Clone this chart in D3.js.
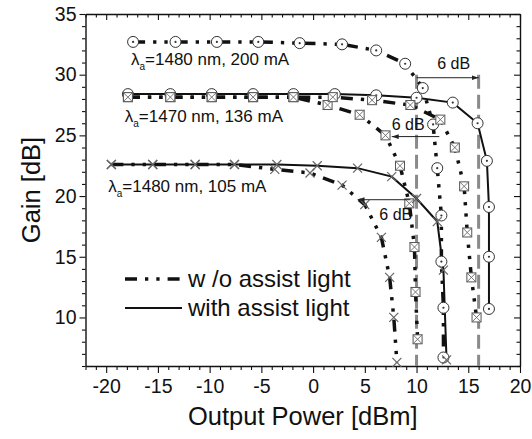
<!DOCTYPE html>
<html>
<head>
<meta charset="utf-8">
<script src="https://cdn.jsdelivr.net/npm/d3@7"></script>
<style>
  body { margin: 0; background: #fff; }
  svg { display: block; }
  text { font-family: "Liberation Sans", Arial, Helvetica, sans-serif; fill: #111; }
</style>
</head>
<body>
<svg id="chart" width="532" height="439"></svg>
<script>
// Gain versus output power, with and without assist light, for three pump conditions.

const xMajorTicks = [-20, -15, -10, -5, 0, 5, 10, 15, 20];
const yMajorTicks = [10, 15, 20, 25, 30, 35];

// λa = 1480 nm, 200 mA
const a1480hiNoAssistP = [-17.4, -13.3, -9.3, -5.3, -1.3, 2.8, 6.1, 8.9, 10.6, 11.6, 12.0, 12.4, 12.4, 12.6, 12.6];
const a1480hiNoAssistG = [32.7, 32.7, 32.7, 32.7, 32.6, 32.5, 32.0, 30.9, 28.9, 25.9, 22.3, 18.4, 14.6, 10.8, 6.7];
const a1480hiAssistP = [-17.9, -13.8, -9.8, -5.8, -1.9, 2.1, 6.1, 10.0, 13.5, 15.9, 16.8, 17.0, 17.0, 17.0];
const a1480hiAssistG = [28.4, 28.4, 28.4, 28.4, 28.4, 28.4, 28.3, 28.1, 27.7, 26.0, 22.9, 19.1, 15.0, 10.7];

// λa = 1470 nm, 136 mA
const a1470NoAssistP = [-17.9, -13.8, -9.8, -5.8, -1.9, 1.4, 4.5, 7.0, 8.4, 9.3, 9.8, 9.9, 10.1];
const a1470NoAssistG = [28.15, 28.15, 28.15, 28.15, 28.15, 27.5, 26.7, 25.0, 22.5, 19.4, 15.8, 12.1, 8.2];
const a1470AssistP = [-17.9, -13.8, -9.8, -5.8, -1.9, 1.9, 5.7, 9.4, 12.3, 13.7, 14.6, 14.9, 15.3, 15.8];
const a1470AssistG = [28.15, 28.15, 28.15, 28.15, 28.15, 28.15, 27.9, 27.5, 26.3, 24.0, 20.8, 17.0, 13.3, 10.0];

// λa = 1480 nm, 105 mA
const a1480loNoAssistP = [-19.5, -15.5, -11.4, -7.6, -3.7, -0.3, 2.8, 5.0, 6.6, 7.4, 7.8, 8.1];
const a1480loNoAssistG = [22.6, 22.6, 22.6, 22.6, 22.2, 21.9, 20.9, 19.3, 16.6, 13.3, 10.0, 6.3];
const a1480loAssistP = [-19.5, -15.5, -11.4, -7.6, -3.5, 0.4, 4.3, 7.6, 10.0, 12.0, 12.6, 12.9];
const a1480loAssistG = [22.6, 22.6, 22.6, 22.6, 22.6, 22.5, 22.3, 21.6, 19.8, 17.9, 13.9, 6.5];

// Condition labels: [power, gain, text after λa]
const conditionLabels = [
  [-17.6, 30.8, "=1480 nm, 200 mA"],
  [-18.2, 26.1, "=1470 nm, 136 mA"],
  [-19.8, 20.35, "=1480 nm, 105 mA"]
];

// Saturation-shift arrows: [gain, from power, to power]
const shiftArrows = [
  [29.75, 10.0, 16.0],
  [24.9, 12.2, 7.6],
  [19.7, 9.4, 4.3]
];
const shiftLabels = [
  [12.0, 30.45, "6 dB"],
  [7.6, 25.45, "6 dB"],
  [6.4, 18.05, "6 dB"]
];
// Reference verticals at the 3-dB saturation powers
const refPowers = [10, 16];
const refTopGain = 30.0;

const legendItems = ["w /o assist light", "with assist light"];

const zip = (P, G) => P.map((p, i) => ({ p, g: G[i] }));

const series = [
  { pts: zip(a1480hiNoAssistP, a1480hiNoAssistG), assist: false, marker: "circle" },
  { pts: zip(a1480hiAssistP, a1480hiAssistG), assist: true, marker: "circle" },
  { pts: zip(a1470NoAssistP, a1470NoAssistG), assist: false, marker: "boxx" },
  { pts: zip(a1470AssistP, a1470AssistG), assist: false, marker: "boxx" },
  { pts: zip(a1480loNoAssistP, a1480loNoAssistG), assist: false, marker: "cross" },
  { pts: zip(a1480loAssistP, a1480loAssistG), assist: true, marker: "cross" }
];

const svg = d3.select("#chart");
const plotLeft = 85.5, plotRight = 520, plotTop = 14, plotBottom = 366;
const x = d3.scaleLinear().domain([-22, 20]).range([plotLeft, plotRight]);
const y = d3.scaleLinear().domain([6, 35]).range([plotBottom, plotTop]);

const xMinor = d3.range(-22, 21, 1).filter(v => !xMajorTicks.includes(v));
const yMinor = d3.range(6, 36, 1).filter(v => !yMajorTicks.includes(v));

function styleAxis(g) {
  g.selectAll("path.domain").attr("stroke", "#111").attr("stroke-width", 1.4);
  g.selectAll(".tick line").attr("stroke", "#111").attr("stroke-width", 1.1);
  g.selectAll(".tick text").attr("fill", "#111").style("font-size", "19.5px")
    .style("font-family", '"Liberation Sans", Arial, sans-serif');
}

// bottom axis
svg.append("g").attr("transform", `translate(0,${plotBottom})`)
  .call(d3.axisBottom(x).tickValues(xMajorTicks).tickSize(7).tickSizeOuter(0).tickPadding(6).tickFormat(d => String(d)))
  .call(styleAxis);
svg.append("g").attr("transform", `translate(0,${plotBottom})`)
  .call(d3.axisBottom(x).tickValues(xMinor).tickSize(4).tickSizeOuter(0).tickFormat(""))
  .call(styleAxis).call(g => g.select("path.domain").remove());
// top axis (ticks inward)
svg.append("g").attr("transform", `translate(0,${plotTop})`)
  .call(d3.axisTop(x).tickValues(xMajorTicks).tickSize(-6).tickSizeOuter(0).tickFormat(""))
  .call(styleAxis);
svg.append("g").attr("transform", `translate(0,${plotTop})`)
  .call(d3.axisTop(x).tickValues(xMinor).tickSize(-3.5).tickSizeOuter(0).tickFormat(""))
  .call(styleAxis).call(g => g.select("path.domain").remove());
// left axis
svg.append("g").attr("transform", `translate(${plotLeft},0)`)
  .call(d3.axisLeft(y).tickValues(yMajorTicks).tickSize(6).tickSizeOuter(0).tickPadding(3).tickFormat(d => String(d)))
  .call(styleAxis);
svg.append("g").attr("transform", `translate(${plotLeft},0)`)
  .call(d3.axisLeft(y).tickValues(yMinor).tickSize(3.5).tickSizeOuter(0).tickFormat(""))
  .call(styleAxis).call(g => g.select("path.domain").remove());
// right axis (ticks inward)
svg.append("g").attr("transform", `translate(${plotRight},0)`)
  .call(d3.axisRight(y).tickValues(yMajorTicks).tickSize(-6).tickSizeOuter(0).tickFormat(""))
  .call(styleAxis);
svg.append("g").attr("transform", `translate(${plotRight},0)`)
  .call(d3.axisRight(y).tickValues(yMinor).tickSize(-3.5).tickSizeOuter(0).tickFormat(""))
  .call(styleAxis).call(g => g.select("path.domain").remove());

// axis titles
svg.append("text").attr("x", (plotLeft + plotRight) / 2).attr("y", 425)
  .attr("text-anchor", "middle").style("font-size", "25.5px").text("Output Power [dBm]");
svg.append("text").attr("transform", `translate(40,${(plotTop + plotBottom) / 2}) rotate(-90)`)
  .attr("text-anchor", "middle").style("font-size", "25.5px").text("Gain [dB]");

// reference verticals
svg.append("g").selectAll("line").data(refPowers).join("line")
  .attr("x1", d => x(d)).attr("x2", d => x(d))
  .attr("y1", y(refTopGain)).attr("y2", plotBottom)
  .attr("stroke", "#8a8a8a").attr("stroke-width", 3).attr("stroke-dasharray", "14,6");

// curves
const line = d3.line().x(d => x(d.p)).y(d => y(d.g));
const noAssistDash = "12,8,3.3,8,3.3,8";
svg.append("g").selectAll("path").data(series).join("path")
  .attr("d", d => line(d.pts))
  .attr("fill", "none").attr("stroke", "#111")
  .attr("stroke-width", d => d.assist ? 2 : 3.5)
  .attr("stroke-dasharray", d => d.assist ? null : noAssistDash);

// markers
const markerLayer = svg.append("g");
series.forEach(s => {
  const g = markerLayer.append("g");
  const pts = g.selectAll("g").data(s.pts).join("g")
    .attr("transform", d => `translate(${x(d.p)},${y(d.g)})`);
  if (s.marker === "circle") {
    pts.append("circle").attr("r", 5.5).attr("fill", "#fff").attr("stroke", "#333").attr("stroke-width", 1);
    pts.append("circle").attr("r", 1.1).attr("fill", "#333");
  } else if (s.marker === "boxx") {
    pts.append("rect").attr("x", -4.5).attr("y", -4.5).attr("width", 9).attr("height", 9)
      .attr("fill", "#fff").attr("stroke", "#555").attr("stroke-width", 1);
    pts.append("path").attr("d", "M-4.5,-4.5L4.5,4.5M4.5,-4.5L-4.5,4.5")
      .attr("stroke", "#666").attr("stroke-width", 0.9);
  } else {
    pts.append("path").attr("d", "M-4.5,-4.5L4.5,4.5M4.5,-4.5L-4.5,4.5")
      .attr("stroke", "#666").attr("stroke-width", 1.2).attr("fill", "none");
  }
});

// condition labels
conditionLabels.forEach(([p, gVal, txt]) => {
  const t = svg.append("text").attr("x", x(p)).attr("y", y(gVal)).style("font-size", "17px");
  t.append("tspan").text("λ");
  t.append("tspan").attr("dy", 5).style("font-size", "10px").text("a");
  t.append("tspan").attr("dy", -5).text(txt);
});

// arrows
const defs = svg.append("defs");
defs.append("marker").attr("id", "ah").attr("viewBox", "0 0 10 10")
  .attr("refX", 10).attr("refY", 5).attr("markerWidth", 7).attr("markerHeight", 7)
  .attr("markerUnits", "userSpaceOnUse").attr("orient", "auto")
  .append("path").attr("d", "M0,1.5L10,5L0,8.5Z").attr("fill", "#222");
svg.append("g").selectAll("line").data(shiftArrows).join("line")
  .attr("x1", d => x(d[1])).attr("x2", d => x(d[2]))
  .attr("y1", d => y(d[0])).attr("y2", d => y(d[0]))
  .attr("stroke", "#222").attr("stroke-width", 1).attr("marker-end", "url(#ah)");
svg.append("g").selectAll("text").data(shiftLabels).join("text")
  .attr("x", d => x(d[0])).attr("y", d => y(d[1]))
  .style("font-size", "16px").text(d => d[2]);

// legend
const legend = svg.append("g");
legendItems.forEach((label, i) => {
  const ly = 279 + i * 29;
  legend.append("line").attr("x1", 125).attr("x2", 182).attr("y1", ly).attr("y2", ly)
    .attr("stroke", "#111").attr("stroke-width", i === 0 ? 3.5 : 2)
    .attr("stroke-dasharray", i === 0 ? noAssistDash : null);
  legend.append("text").attr("x", 188).attr("y", ly + 8).style("font-size", "24px").text(label);
});
</script>
</body>
</html>
